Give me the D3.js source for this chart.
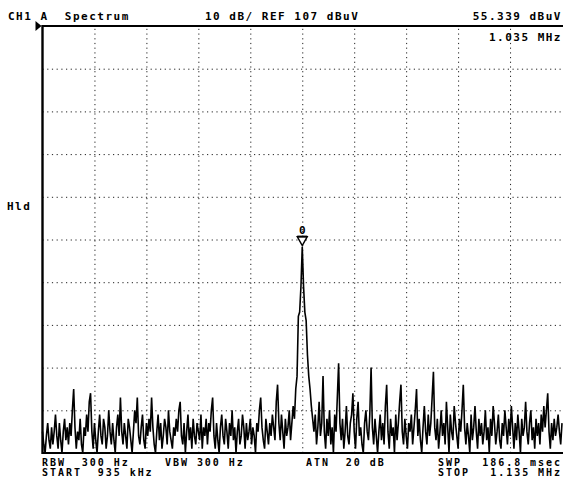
<!DOCTYPE html>
<html>
<head>
<meta charset="utf-8">
<script src="https://cdn.jsdelivr.net/npm/d3@7"></script>
<style>
  body { margin: 0; background: #fff; }
  text { font-family: "DejaVu Sans Mono", monospace; font-size: 11px; font-weight: bold; letter-spacing: 1.5px; white-space: pre; fill: #000; }
  text.small { font-size: 10px; letter-spacing: 1.95px; }
</style>
</head>
<body>
<div id="chart"></div>
<script>
// sweep settings (kHz / dBuV)
var startFreq = 935, stopFreq = 1135, stepFreq = 0.5;
var refLevel = 107, dbPerDiv = 10, nDiv = 10;
var markerFreq = 1035, markerLevel = 55.339;

// trace, one reading every 0.5 kHz from 935 to 1135 kHz (dBuV)
var trace = [
  12, 9, 7, 11, 14, 10, 8, 13, 9, 12, 16, 11, 8, 14, 10, 7, 12, 15, 10, 13,
  9, 14, 11, 17, 22, 13, 8, 12, 10, 15, 9, 7, 13, 11, 16, 12, 19, 21, 12, 8,
  14, 10, 7, 12, 16, 11, 9, 15, 13, 8, 11, 17, 12, 9, 14, 10, 7, 13, 16, 11,
  20, 12, 9, 14, 11, 8, 15, 13, 10, 7, 12, 17, 14, 20, 11, 9, 13, 16, 10, 8,
  14, 11, 15, 12, 20, 13, 9, 7, 12, 16, 10, 14, 8, 11, 15, 13, 9, 17, 12, 10,
  8, 13, 11, 15, 12, 17, 19, 11, 9, 14, 7, 12, 16, 10, 13, 8, 15, 11, 9, 14,
  12, 10, 16, 8, 13, 11, 15, 9, 14, 12, 17, 20, 11, 8, 14, 10, 7, 13, 16, 11,
  9, 15, 12, 8, 14, 11, 17, 10, 13, 7, 12, 15, 9, 11, 16, 13, 8, 14, 10, 12,
  15, 9, 13, 11, 7, 14, 12, 17, 20, 13, 10, 8, 15, 12, 9, 14, 11, 16, 13, 10,
  19, 23, 14, 10, 16, 12, 8, 15, 11, 13, 17, 10, 14, 18, 15, 22, 25, 39, 40, 46,
  55.3, 46, 40, 38, 30, 25, 22, 18, 15, 12, 16, 9, 13, 19, 11, 14, 25, 12, 8, 15,
  11, 17, 9, 13, 7, 16, 12, 20, 28, 14, 10, 15, 8, 12, 18, 11, 9, 14, 16, 21,
  12, 8, 15, 19, 11, 13, 9, 7, 14, 17, 12, 10, 16, 27, 13, 9, 15, 11, 7, 12,
  16, 10, 14, 9, 18, 23, 12, 8, 15, 11, 13, 7, 16, 10, 14, 19, 23, 12, 9, 15,
  11, 8, 14, 12, 16, 9, 13, 17, 22, 11, 15, 10, 7, 13, 18, 12, 9, 16, 11, 14,
  20, 26, 13, 10, 15, 8, 12, 17, 11, 14, 9, 19, 13, 7, 16, 12, 10, 18, 14, 11,
  8, 15, 12, 17, 23, 13, 9, 14, 11, 7, 16, 10, 13, 18, 12, 8, 15, 11, 14, 9,
  12, 17, 10, 13, 7, 15, 11, 18, 14, 9, 12, 16, 10, 8, 14, 11, 17, 13, 9, 15,
  11, 18, 13, 8, 14, 10, 16, 12, 7, 15, 11, 13, 19, 12, 9, 14, 17, 10, 13, 8,
  15, 11, 14, 9, 16, 12, 18, 13, 17, 21, 12, 8, 14, 10, 15, 11, 13, 16, 12, 9,
  14
];

var W = 563, H = 486;
var pLeft = 42.5, pRight = 562, pTop = 26, pBottom = 453;

var svg = d3.select("#chart").append("svg")
    .attr("width", W)
    .attr("height", H);

var x = d3.scaleLinear()
    .domain([startFreq, stopFreq])
    .range([pLeft, pRight]);

var y = d3.scaleLinear()
    .domain([refLevel - dbPerDiv * nDiv, refLevel])
    .range([pBottom, pTop])
    .clamp(true);

// dotted graticule
var xTicks = d3.range(1, nDiv).map(function (i) { return startFreq + i * (stopFreq - startFreq) / nDiv; });
var yTicks = d3.range(1, nDiv).map(function (i) { return refLevel - i * dbPerDiv; });

svg.append("g")
    .attr("transform", "translate(0," + pBottom + ")")
    .call(d3.axisBottom(x).tickValues(xTicks).tickSize(-(pBottom - pTop)).tickFormat(""))
    .call(function (g) { g.select(".domain").remove(); })
    .selectAll("line")
    .attr("stroke", "#222")
    .attr("stroke-dasharray", "1.2 3.5");

svg.append("g")
    .attr("transform", "translate(" + pLeft + ",0)")
    .call(d3.axisLeft(y).tickValues(yTicks).tickSize(-(pRight - pLeft + 1)).tickFormat(""))
    .call(function (g) { g.select(".domain").remove(); })
    .selectAll("line")
    .attr("stroke", "#222")
    .attr("stroke-dasharray", "1.2 3.5");

// trace
var line = d3.line()
    .x(function (d, i) { return x(startFreq + i * stepFreq); })
    .y(function (d) { return y(d); });

svg.append("path")
    .datum(trace)
    .attr("fill", "none")
    .attr("stroke", "#000")
    .attr("stroke-width", 1.6)
    .attr("stroke-linejoin", "miter")
    .attr("d", line);

// frame: top, bottom, left
svg.append("line").attr("x1", pLeft).attr("x2", W).attr("y1", pTop).attr("y2", pTop)
    .attr("stroke", "#000").attr("stroke-width", 1.8);
svg.append("line").attr("x1", pLeft).attr("x2", W).attr("y1", pBottom).attr("y2", pBottom)
    .attr("stroke", "#000").attr("stroke-width", 1.8);
svg.append("line").attr("x1", pLeft).attr("x2", pLeft).attr("y1", pTop - 1).attr("y2", pBottom + 1)
    .attr("stroke", "#000").attr("stroke-width", 2.4);

// reference level arrow
var ry = y(refLevel);
svg.append("path")
    .attr("d", "M" + (pLeft - 7) + "," + (ry - 5) + "L" + (pLeft - 1) + "," + ry + "L" + (pLeft - 7) + "," + (ry + 5) + "Z")
    .attr("fill", "#000");

// marker
var mx = x(markerFreq), my = y(markerLevel);
svg.append("path")
    .attr("d", "M" + (mx - 5) + "," + (my - 10) + "L" + (mx + 5) + "," + (my - 10) + "L" + mx + "," + (my - 1) + "Z")
    .attr("fill", "#fff")
    .attr("stroke", "#000")
    .attr("stroke-width", 1.4);
svg.append("line")
    .attr("x1", mx - 5).attr("x2", mx + 5).attr("y1", my - 10).attr("y2", my - 10)
    .attr("stroke", "#000").attr("stroke-width", 2);
svg.append("text")
    .attr("x", mx).attr("y", my - 13)
    .attr("text-anchor", "middle")
    .style("letter-spacing", "0px")
    .text("0");

// annotations
svg.append("text").attr("x", 8).attr("y", 20).text("CH1 A  Spectrum");
svg.append("text").attr("x", 205).attr("y", 20).text("10 dB/ REF " + refLevel + " dBuV");
svg.append("text").attr("x", 562).attr("y", 20).attr("text-anchor", "end").text(markerLevel.toFixed(3) + " dBuV");
svg.append("text").attr("x", 562).attr("y", 41).attr("text-anchor", "end").text((markerFreq / 1000).toFixed(3) + " MHz");
svg.append("text").attr("x", 7).attr("y", 210).text("Hld");

svg.append("text").attr("class", "small").attr("x", 42).attr("y", 466).text("RBW  300 Hz");
svg.append("text").attr("class", "small").attr("x", 165).attr("y", 466).text("VBW 300 Hz");
svg.append("text").attr("class", "small").attr("x", 306).attr("y", 466).text("ATN  20 dB");
svg.append("text").attr("class", "small").attr("x", 438).attr("y", 466).text("SWP");
svg.append("text").attr("class", "small").attr("x", 562).attr("y", 466).attr("text-anchor", "end").text("186.8 msec");
svg.append("text").attr("class", "small").attr("x", 42).attr("y", 476).text("START  " + startFreq + " kHz");
svg.append("text").attr("class", "small").attr("x", 438).attr("y", 476).text("STOP");
svg.append("text").attr("class", "small").attr("x", 562).attr("y", 476).attr("text-anchor", "end").text((stopFreq / 1000).toFixed(3) + " MHz");
</script>
</body>
</html>
